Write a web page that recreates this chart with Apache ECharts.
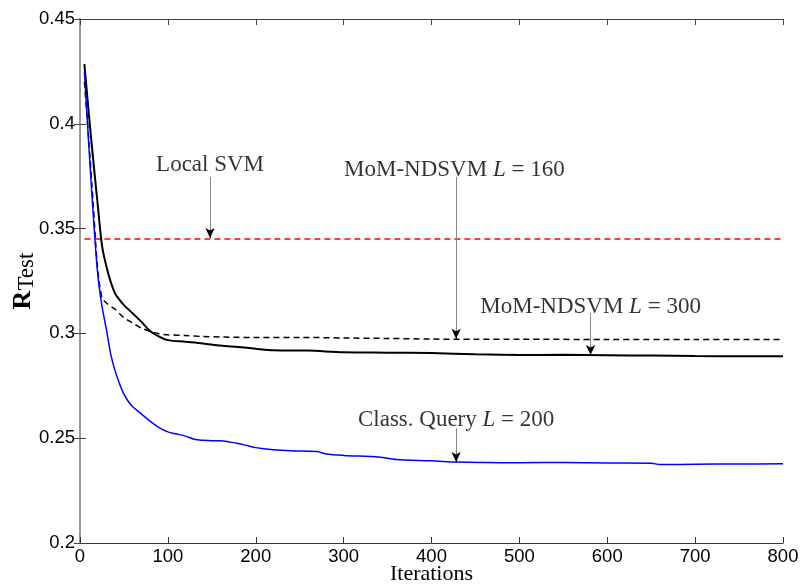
<!DOCTYPE html>
<html>
<head>
<meta charset="utf-8">
<script src="https://cdn.jsdelivr.net/npm/echarts@6/dist/echarts.min.js"></script>
<style>
  html, body { margin: 0; padding: 0; background: #fff; }
  #chart { width: 801px; height: 585px; }
</style>
</head>
<body>
<div id="chart"></div>
<script>
// 数据
const xTicks = [0, 100, 200, 300, 400, 500, 600, 700, 800];
const yTicks = [0.2, 0.25, 0.3, 0.35, 0.4, 0.45];

// Class. Query L = 200 (蓝色)
const queryIter = [5, 10, 15, 20, 25, 30, 35, 40, 45, 50, 55, 60, 70, 80, 90, 100, 110, 120, 130, 140, 150, 160, 170, 180, 190, 200, 220, 240, 260, 270, 280, 300, 340, 360, 400, 430, 460, 500, 550, 600, 650, 660, 700, 750, 800];
const queryVal = [0.425, 0.39, 0.357, 0.329, 0.313, 0.302, 0.29, 0.282, 0.276, 0.271, 0.2675, 0.265, 0.2615, 0.258, 0.255, 0.253, 0.252, 0.251, 0.2495, 0.249, 0.2488, 0.2488, 0.2482, 0.2475, 0.2465, 0.2455, 0.2445, 0.244, 0.2438, 0.2436, 0.2425, 0.2418, 0.241, 0.2398, 0.2392, 0.2386, 0.2384, 0.2383, 0.2384, 0.2382, 0.2381, 0.2374, 0.2376, 0.2377, 0.2378];

// MoM-NDSVM L = 300 (黑色实线)
const mom300Iter = [5, 10, 15, 20, 25, 30, 35, 40, 45, 50, 55, 60, 70, 80, 90, 100, 120, 140, 160, 180, 200, 220, 260, 300, 350, 400, 450, 500, 550, 600, 650, 700, 750, 800];
const mom300Val = [0.4285, 0.405, 0.383, 0.362, 0.342, 0.332, 0.3245, 0.319, 0.316, 0.3135, 0.3115, 0.3095, 0.3055, 0.301, 0.2985, 0.2968, 0.296, 0.2952, 0.2942, 0.2935, 0.2927, 0.292, 0.2918, 0.291, 0.2908, 0.2906, 0.29, 0.2897, 0.2898, 0.2896, 0.2894, 0.2892, 0.2891, 0.2891];

// MoM-NDSVM L = 160 (黑色虚线)
const mom160Iter = [5, 10, 15, 20, 25, 30, 40, 50, 60, 70, 80, 90, 100, 120, 140, 160, 200, 250, 300, 350, 400, 450, 500, 600, 700, 800];
const mom160Val = [0.42, 0.392, 0.362, 0.331, 0.317, 0.3145, 0.3115, 0.3075, 0.305, 0.3025, 0.301, 0.2998, 0.2993, 0.299, 0.2985, 0.2983, 0.298, 0.2981, 0.2978, 0.2976, 0.2973, 0.2972, 0.2972, 0.2971, 0.2971, 0.2971];

// Local SVM (红色水平虚线)
const localIter = [5, 800];
const localVal = [0.345, 0.345];

// 标注
const noteText = ['Local SVM', 'MoM-NDSVM {i|L} = 160', 'MoM-NDSVM {i|L} = 300', 'Class. Query {i|L} = 200'];
const noteIter = [148, 426, 581, 428];
const noteVal = [0.3803, 0.378, 0.3126, 0.2586];
const arrowIter = [148, 428, 581, 428];
const arrowFrom = [0.3747, 0.3747, 0.3097, 0.2548];
const arrowTo = [0.3455, 0.2975, 0.2897, 0.2387];

const zip = (xs, ys) => xs.map((x, i) => [x, ys[i]]);

const chart = echarts.init(document.getElementById('chart'));

const serif = '"Liberation Serif", "DejaVu Serif", serif';
const sans = '"Liberation Sans", Arial, sans-serif';

// 箭头：灰色竖线 + 黑色箭头
const arrowLines = [];
const arrowHeads = [];
arrowIter.forEach((x, i) => {
  arrowLines.push([{ coord: [x, arrowFrom[i]] }, { coord: [x, arrowTo[i]] }]);
  arrowHeads.push([{ coord: [x, arrowTo[i] + 0.002] }, { coord: [x, arrowTo[i]] }]);
});

const option = {
  animation: false,
  backgroundColor: '#fff',
  grid: { left: 80, right: 18, top: 19, bottom: 42, outerBoundsMode: 'none' },
  xAxis: [
    {
      type: 'value', min: 0, max: 800, interval: 100,
      name: 'Iterations', nameLocation: 'middle', nameGap: 20, nameMoveOverlap: false,
      nameTextStyle: { fontFamily: serif, fontSize: 22, color: '#000' },
      axisLine: { lineStyle: { color: '#333', width: 1 } },
      axisTick: { inside: true, length: 6, lineStyle: { color: '#333' } },
      axisLabel: { fontFamily: sans, fontSize: 18.5, color: '#000', margin: 4 },
      splitLine: { show: false }
    },
    {
      type: 'value', min: 0, max: 800, interval: 100, position: 'top',
      axisLine: { show: true, lineStyle: { color: '#444', width: 1 } },
      axisTick: { inside: true, length: 6, lineStyle: { color: '#444' } },
      axisLabel: { show: false },
      splitLine: { show: false }
    }
  ],
  yAxis: [
    {
      type: 'value', min: 0.2, max: 0.45, interval: 0.05,
      name: '{r|R}{t|Test}', nameLocation: 'middle', nameGap: 42, nameRotate: 90, nameMoveOverlap: false,
      nameTextStyle: {
        rich: {
          r: { fontFamily: serif, fontWeight: 'bold', fontSize: 26, color: '#000' },
          t: { fontFamily: serif, fontSize: 23, color: '#000', padding: [7, 0, 0, 0] }
        }
      },
      axisLine: { show: true, lineStyle: { color: '#999', width: 2 } },
      axisTick: { inside: true, length: 6, lineStyle: { color: '#444' } },
      axisLabel: { fontFamily: sans, fontSize: 18.5, color: '#000', margin: 5 },
      splitLine: { show: false }
    },
    {
      type: 'value', min: 0.2, max: 0.45, interval: 0.05, position: 'right',
      axisLine: { show: true, lineStyle: { color: '#999', width: 2 } },
      axisTick: { inside: true, length: 6, lineStyle: { color: '#444' } },
      axisLabel: { show: false },
      splitLine: { show: false }
    }
  ],
  series: [
    {
      name: 'Local SVM', type: 'line', data: zip(localIter, localVal),
      showSymbol: false, lineStyle: { color: '#ff0000', width: 1.5, type: [6, 4] }
    },
    {
      name: 'MoM-NDSVM L=160', type: 'line', data: zip(mom160Iter, mom160Val),
      showSymbol: false, smooth: 0.3, lineStyle: { color: '#000', width: 1.5, type: [6, 4] }
    },
    {
      name: 'MoM-NDSVM L=300', type: 'line', data: zip(mom300Iter, mom300Val),
      showSymbol: false, smooth: 0.3, lineStyle: { color: '#000', width: 2 }
    },
    {
      name: 'Class. Query L=200', type: 'line', data: zip(queryIter, queryVal),
      showSymbol: false, smooth: 0.3, lineStyle: { color: '#0000ff', width: 1.5 }
    },
    {
      name: 'arrows', type: 'line', data: [],
      markLine: {
        silent: true, symbol: ['none', 'none'],
        lineStyle: { color: '#888', width: 1, type: 'solid' },
        label: { show: false },
        data: arrowLines
      }
    },
    {
      name: 'arrowHeads', type: 'line', data: [],
      markLine: {
        silent: true, symbol: ['none', 'arrow'], symbolSize: [7, 10],
        lineStyle: { color: '#000', width: 1, type: 'solid' },
        label: { show: false },
        data: arrowHeads
      }
    },
    {
      name: 'notes', type: 'scatter', symbolSize: 0,
      data: noteIter.map((x, i) => ({ value: [x, noteVal[i]], text: noteText[i] })),
      label: {
        show: true, position: 'inside',
        formatter: p => p.data.text,
        fontFamily: serif, fontSize: 23, color: '#000',
        rich: { i: { fontFamily: serif, fontStyle: 'italic', fontSize: 23, color: '#000' } }
      }
    }
  ]
};

chart.setOption(option);
</script>
</body>
</html>
